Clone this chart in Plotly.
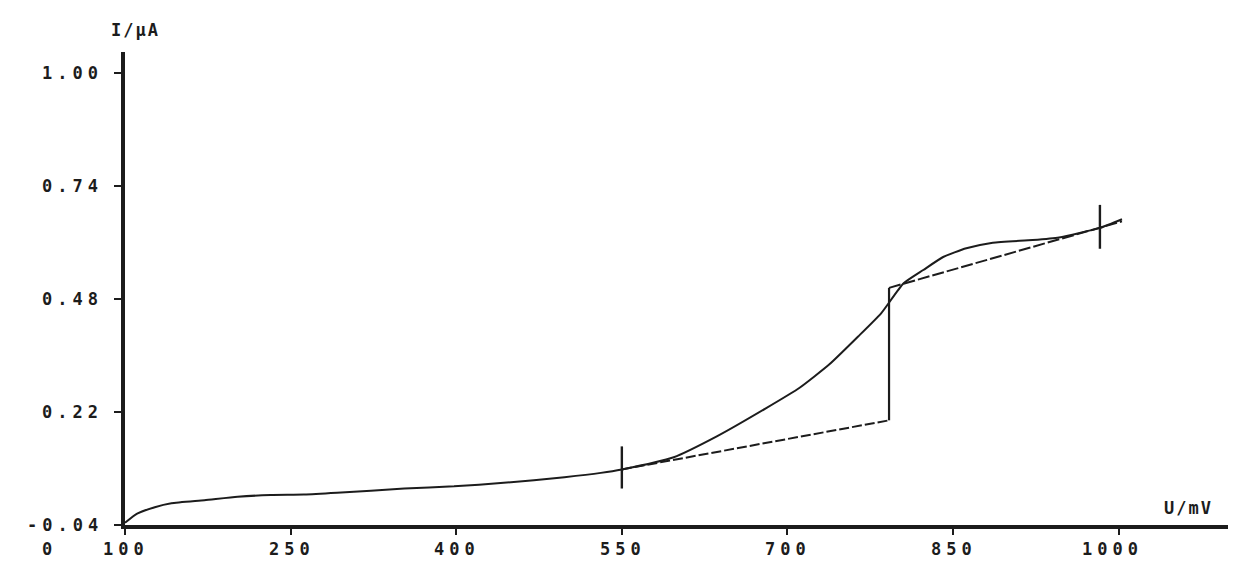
import plotly.graph_objects as go

# Polarographic wave: current I (µA) against potential U (mV)
potential_mv = [100, 111, 127, 142, 172, 202, 232, 262, 292, 353, 398, 443, 498, 531, 550,
                597, 636, 680, 711, 738, 764, 785, 805, 823, 841, 862, 886, 922, 946, 983, 1003]
current_ua = [-0.035, -0.014, 0.001, 0.010, 0.017, 0.025, 0.029, 0.030, 0.034, 0.044, 0.049,
              0.057, 0.070, 0.080, 0.088, 0.116, 0.164, 0.228, 0.276, 0.330, 0.394, 0.448,
              0.516, 0.547, 0.577, 0.597, 0.610, 0.616, 0.622, 0.644, 0.664]

# Tangent construction used to read the wave height
lower_tangent_mv = [550, 792]
lower_tangent_ua = [0.088, 0.201]
step_mv = [792, 792]
step_ua = [0.201, 0.506]
upper_tangent_mv = [792, 1003]
upper_tangent_ua = [0.506, 0.659]

# Vertical cursor marks at the tangent points
cursor_mv = [550, 983]
cursor_low_ua = [0.044, 0.596]
cursor_high_ua = [0.141, 0.697]

x_ticks = [100, 250, 400, 550, 700, 850, 1000]
x_tick_text = ["100", "250", "400", "550", "700", "850", "1000"]
y_ticks = [-0.04, 0.22, 0.48, 0.74, 1.00]
y_tick_text = ["-0.04", "0.22", "0.48", "0.74", "1.00"]

INK = "#1c1c1c"
FONT = dict(family="DejaVu Sans Mono", size=17, color=INK, weight="bold")


def spaced(text, gap=5):
    return f'<b><span style="letter-spacing:{gap}px">{text}</span></b>'


fig = go.Figure()

fig.add_trace(go.Scatter(x=potential_mv, y=current_ua, mode="lines",
                         line=dict(color=INK, width=2, shape="spline", smoothing=0.5),
                         hoverinfo="skip"))
fig.add_trace(go.Scatter(x=lower_tangent_mv, y=lower_tangent_ua, mode="lines",
                         line=dict(color=INK, width=2, dash="10px,3px"), hoverinfo="skip"))
fig.add_trace(go.Scatter(x=step_mv, y=step_ua, mode="lines",
                         line=dict(color=INK, width=2.2), hoverinfo="skip"))
fig.add_trace(go.Scatter(x=upper_tangent_mv, y=upper_tangent_ua, mode="lines",
                         line=dict(color=INK, width=2, dash="12px,3px"), hoverinfo="skip"))
for u, lo, hi in zip(cursor_mv, cursor_low_ua, cursor_high_ua):
    fig.add_trace(go.Scatter(x=[u, u], y=[lo, hi], mode="lines",
                             line=dict(color=INK, width=2.4), hoverinfo="skip"))

annotations = []
for v, t in zip(x_ticks, x_tick_text):
    annotations.append(dict(x=v, xref="x", y=0, yref="paper", text=spaced(t),
                            xanchor="right", yanchor="middle", xshift=26, yshift=-24,
                            showarrow=False, font=FONT))
for v, t in zip(y_ticks, y_tick_text):
    annotations.append(dict(x=0, xref="paper", y=v, yref="y", text=spaced(t),
                            xanchor="right", yanchor="middle", xshift=-20,
                            showarrow=False, font=FONT))
annotations.append(dict(x=0, xref="paper", y=0, yref="paper", text="<b>0</b>",
                        xanchor="center", yanchor="middle", xshift=-78, yshift=-24,
                        showarrow=False, font=FONT))
annotations.append(dict(x=0, xref="paper", y=1, yref="paper", text=spaced("I/µA", 2),
                        xanchor="center", yanchor="middle", xshift=10, yshift=22,
                        showarrow=False, font=FONT))
annotations.append(dict(x=1, xref="paper", y=0, yref="paper", text=spaced("U/mV", 2),
                        xanchor="center", yanchor="middle", xshift=-40, yshift=17,
                        showarrow=False, font=FONT))

fig.update_layout(
    width=1238, height=573,
    margin=dict(l=125, r=10, t=52, b=48),
    paper_bgcolor="white", plot_bgcolor="white",
    showlegend=False,
    annotations=annotations,
    xaxis=dict(range=[100, 1099], showgrid=False, zeroline=False,
               showline=True, linecolor=INK, linewidth=3.5,
               tickmode="array", tickvals=x_ticks, ticks="outside",
               ticklen=6, tickwidth=2, tickcolor=INK, showticklabels=False),
    yaxis=dict(range=[-0.04, 1.049], showgrid=False, zeroline=False,
               showline=True, linecolor=INK, linewidth=3.5,
               tickmode="array", tickvals=y_ticks, ticks="outside",
               ticklen=7, tickwidth=2, tickcolor=INK, showticklabels=False),
)

fig.write_html("out.html")
